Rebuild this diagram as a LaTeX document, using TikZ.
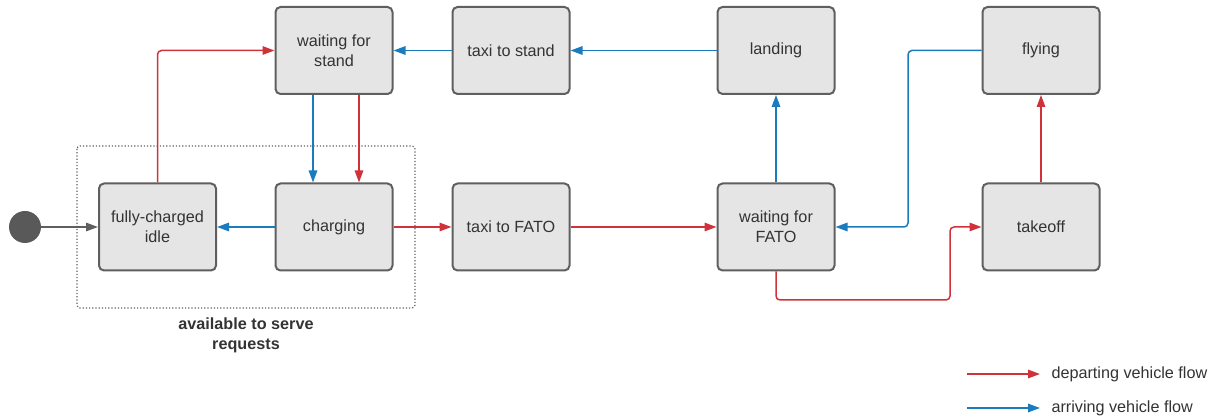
\documentclass[tikz,border=0pt]{standalone}
\usepackage{fontspec}
\setmainfont{Liberation Sans}
\usetikzlibrary{arrows.meta}

\begin{document}
\begin{tikzpicture}[x=1pt,y=-1pt,
  state/.style={draw=kBorder,fill=kFill,line width=2pt,rounded corners=5pt,
    minimum width=117pt,minimum height=87pt,align=center,text=kText,
    font=\fontsize{16.2}{20}\selectfont},
  flow/.style={line width=1.5pt,rounded corners=4pt,-{Triangle[length=12pt,width=8.5pt]}},
  depart/.style={flow,draw=kRed},
  arrive/.style={flow,draw=kBlue},
  legtext/.style={anchor=west,text=kText,font=\fontsize{16.2}{18}\selectfont}]
  \definecolor{kBorder}{HTML}{5F5F5F}
  \definecolor{kFill}{HTML}{E5E5E5}
  \definecolor{kText}{HTML}{333333}
  \definecolor{kRed}{HTML}{D0323B}
  \definecolor{kBlue}{HTML}{1A7BBE}
  \definecolor{kStart}{HTML}{595959}

  \useasboundingbox (0,0) rectangle (1221,419);

  % group frame
  \draw[color=kBorder,dotted,line width=1.2pt,rounded corners=3pt] (77,146) rectangle (415,308);
  \node[align=center,text=kText,font=\bfseries\fontsize{16.2}{20}\selectfont] (availlabel) at (246,335)
    {available to serve\\requests};

  % states
  \node[circle,fill=kStart,minimum size=32pt,inner sep=0pt] (start) at (25,227) {};
  \node[state] (idle)     at (157.5,227) {fully-charged\\idle};
  \node[state] (charging) at (334,227)   {charging};
  \node[state] (taxifato) at (511,227)   {taxi to FATO};
  \node[state] (waitfato) at (776,227)   {waiting for\\FATO};
  \node[state] (takeoff)  at (1041,227)  {takeoff};
  \node[state] (waitstand) at (334,50.5) {waiting for\\stand};
  \node[state] (taxistand) at (511,50.5) {taxi to stand};
  \node[state] (landing)   at (776,50.5) {landing};
  \node[state] (flying)    at (1041,50.5) {flying};

  % bends
  \coordinate (bendfly) at (908,50.5);
  \coordinate (bendtake) at (950,300);

  % departing flow
  \draw[depart] (idle.north) |- (waitstand.west);
  \draw[depart] ([xshift=25pt]waitstand.south) -- ([xshift=25pt]charging.north);
  \draw[depart] (charging) -- (taxifato);
  \draw[depart] (taxifato) -- (waitfato);
  \draw[depart] (waitfato.south) |- (bendtake) |- (takeoff.west);
  \draw[depart] (takeoff) -- (flying);

  % arriving flow
  \draw[arrive] (flying.west) -- (bendfly) |- (waitfato.east);
  \draw[arrive] (waitfato) -- (landing);
  \draw[arrive] (landing) -- (taxistand);
  \draw[arrive] (taxistand) -- (waitstand);
  \draw[arrive] ([xshift=-21pt]waitstand.south) -- ([xshift=-21pt]charging.north);
  \draw[arrive] (charging) -- (idle);

  % start
  \draw[flow,draw=kBorder] (start) -- (idle);

  % legend
  \coordinate (legdepA) at (967,374);
  \coordinate (legdepB) at (1040,374);
  \coordinate (legarrA) at (967,408);
  \coordinate (legarrB) at (1040,408);
  \draw[depart] (legdepA) -- (legdepB);
  \draw[arrive] (legarrA) -- (legarrB);
  \node[legtext] (legdep) at (1048,374) {departing vehicle flow};
  \node[legtext] (legarr) at (1048,408) {arriving vehicle flow};
\end{tikzpicture}
\end{document}
